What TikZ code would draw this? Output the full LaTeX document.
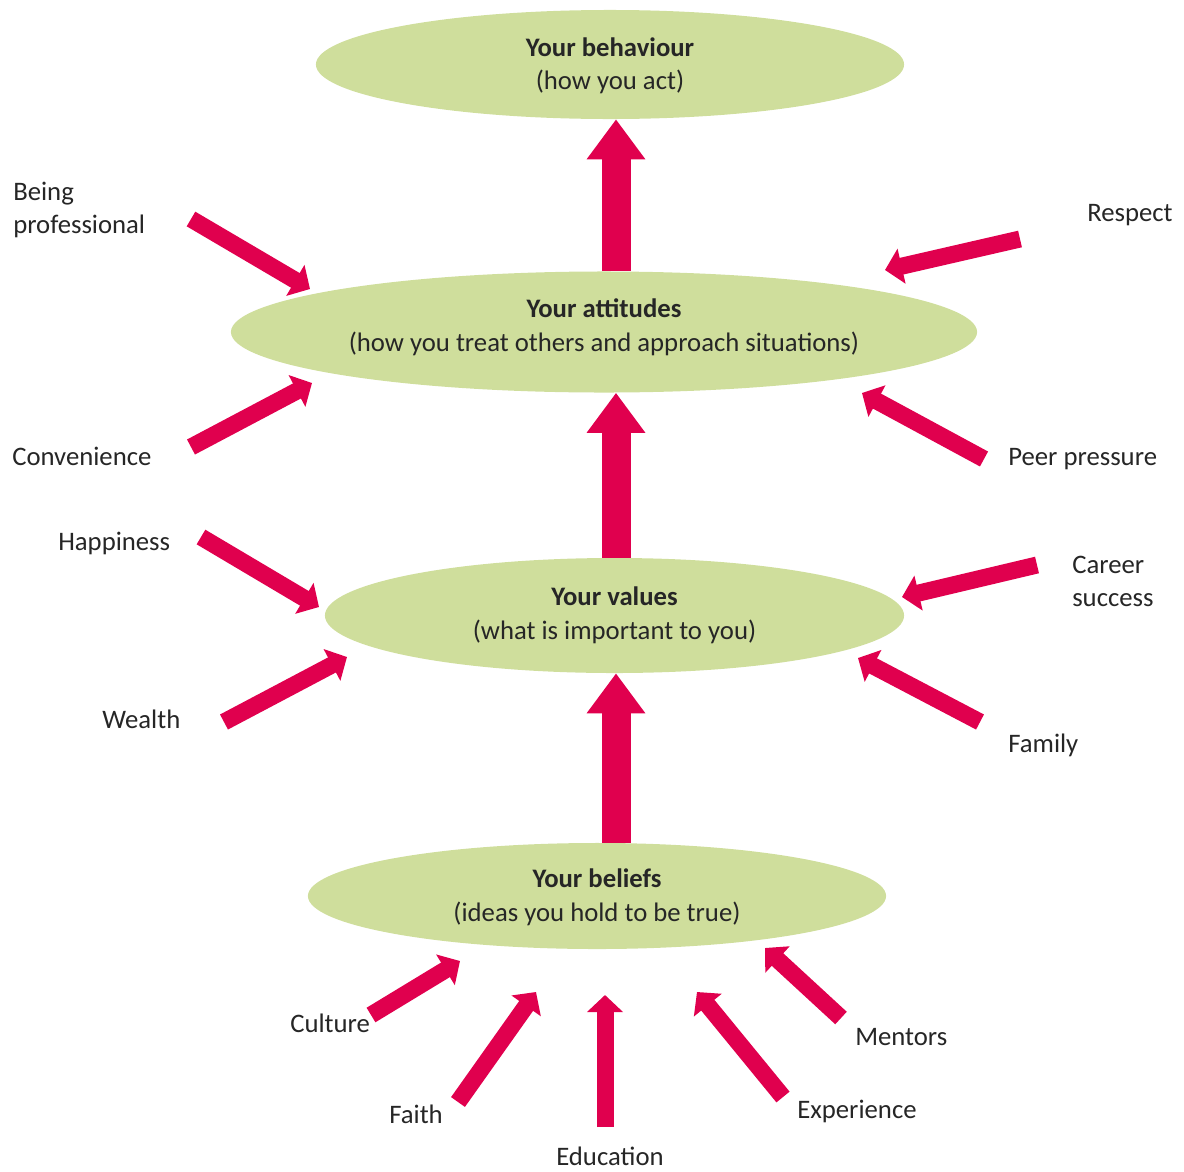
\documentclass[tikz,border=0pt]{standalone}
\usepackage{fontspec}
\setmainfont{Carlito}
\usetikzlibrary{arrows.meta,shapes.geometric}
\definecolor{leafgreen}{HTML}{CFDE9C}
\definecolor{hotpink}{HTML}{E0004E}

\begin{document}
\begin{tikzpicture}[x=0.025cm, y=-0.025cm,
  every node/.style={font=\fontsize{19}{23.5}\selectfont, text=black!85},
  layer/.style={ellipse, fill=leafgreen, inner sep=0pt, align=center, text height=#1, text depth=0pt},
  bigarrow/.style={hotpink, line width=0.725cm, -{Triangle[length=1.0cm, width=1.4cm]}},
  pinkarrow/.style={hotpink, line width=0.425cm, -{Triangle[length=0.425cm, width=0.875cm]}},
  factor/.style={inner sep=0pt, anchor=base west}]
  \useasboundingbox (0,0) rectangle (1184,1171);

  % Niveles
  \node[layer=1.26cm, minimum width=14.7cm, minimum height=2.725cm] (behaviour) at (610,64.5)
    {\textbf{Your behaviour}\\(how you act)};
  \node[layer=0.95cm, minimum width=18.65cm, minimum height=3.025cm] (attitudes) at (604,332)
    {\textbf{Your attitudes}\\(how you treat others and approach situations)};
  \node[layer=1.175cm, minimum width=14.475cm, minimum height=2.875cm] (values) at (614.5,615.5)
    {\textbf{Your values}\\(what is important to you)};
  \node[layer=1.25cm, minimum width=14.45cm, minimum height=2.65cm] (beliefs) at (597,896)
    {\textbf{Your beliefs}\\(ideas you hold to be true)};

  % Flechas centrales
  \coordinate (spine) at (616,0);
  \draw[bigarrow] (spine |- attitudes.north) -- (spine |- behaviour.south);
  \draw[bigarrow] (spine |- values.north) -- (spine |- attitudes.south);
  \draw[bigarrow] (spine |- beliefs.north) -- (spine |- values.south);

  % Factores
  \node[inner sep=0pt, anchor=north west, align=left] (prof) at (13,182) {Being\\professional};
  \node[factor] (conv) at (12,465) {Convenience};
  \node[factor] (resp) at (1087,221) {Respect};
  \node[factor] (peer) at (1008,465) {Peer pressure};
  \node[factor] (happ) at (58,550) {Happiness};
  \node[factor] (wealth) at (102,728) {Wealth};
  \node[inner sep=0pt, anchor=north west, align=left] (career) at (1072,556) {Career\\success};
  \node[factor] (family) at (1008,752) {Family};
  \node[factor] (culture) at (290,1032) {Culture};
  \node[factor] (faith) at (389,1123) {Faith};
  \node[factor] (educ) at (556,1165) {Education};
  \node[factor] (exper) at (797,1118) {Experience};
  \node[factor] (mentors) at (855,1045) {Mentors};

  % Flechas de los factores
  \foreach \n/\tx/\ty/\hx/\hy in {
    prof/191/219/310/289, conv/191/447/312/383,
    resp/1020/239/885/270, peer/984/459/862/393,
    happ/201/537/319/607, wealth/224/722/347/657,
    career/1037/565/902/597, family/980/722/858/658,
    culture/371/1015/460/961, faith/458/1102/536/992,
    educ/605/1127/605/995, exper/783/1097/697/992,
    mentors/841/1018/765/948}{
    \coordinate (\n-tail) at (\tx,\ty);
    \coordinate (\n-tip) at (\hx,\hy);
    \draw[pinkarrow] (\n-tail) -- (\n-tip);
  }
\end{tikzpicture}
\end{document}
